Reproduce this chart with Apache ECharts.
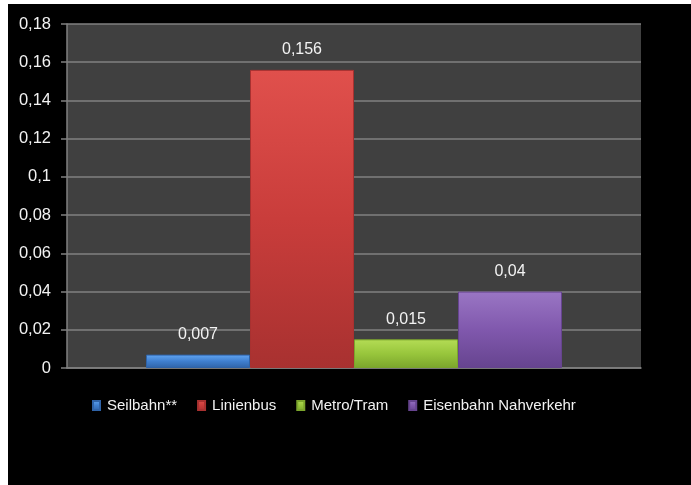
<!DOCTYPE html>
<html>
<head>
<meta charset="utf-8">
<script src="https://cdn.jsdelivr.net/npm/echarts@6/dist/echarts.min.js"></script>
<style>
  html, body { margin: 0; padding: 0; background: #ffffff; }
  #chart { width: 691px; height: 485px; }
</style>
</head>
<body>
<div id="chart"></div>
<script>
// Verkehrsmittel und ihre Werte
const categories = ['Seilbahn**', 'Linienbus', 'Metro/Tram', 'Eisenbahn Nahverkehr'];
const values = [0.007, 0.156, 0.015, 0.04];
const barColors = [
  ['#62a6f2', '#3f7fcf', '#2f63a8'],
  ['#e0504c', '#c93d3b', '#a83130'],
  ['#b4dc55', '#98c63c', '#7ba52c'],
  ['#9a76c4', '#8058ad', '#66448f']
];
const yMin = 0, yMax = 0.18, yStep = 0.02;

const fmt = v => String(+(+v).toFixed(3)).replace('.', ',');

const series = categories.map((name, i) => ({
  name: name,
  type: 'bar',
  data: [values[i]],
  barWidth: 104,
  barGap: '0%',
  itemStyle: {
    color: new echarts.graphic.LinearGradient(0, 0, 0, 1, [
      { offset: 0, color: barColors[i][0] },
      { offset: 0.5, color: barColors[i][1] },
      { offset: 1, color: barColors[i][2] }
    ]),
    borderColor: barColors[i][2],
    borderWidth: 1
  },
  label: {
    show: true,
    position: 'top',
    distance: 12,
    color: '#f2f2f2',
    fontFamily: 'Liberation Sans',
    fontSize: 16,
    formatter: p => fmt(p.value)
  }
}));

const chart = echarts.init(document.getElementById('chart'));
chart.setOption({
  backgroundColor: '#000000',
  animation: false,
  graphic: [
    { type: 'rect', left: 0, top: 0, shape: { width: 691, height: 4 }, style: { fill: '#ffffff' }, z: 100 },
    { type: 'rect', left: 0, top: 0, shape: { width: 8, height: 485 }, style: { fill: '#ffffff' }, z: 100 }
  ],
  grid: { left: 67, right: 50, top: 24, bottom: 117, backgroundColor: '#404040', show: true, borderWidth: 0 },
  legend: {
    data: categories,
    left: 87,
    top: 393,
    itemWidth: 7,
    itemHeight: 9,
    itemGap: 20,
    icon: 'rect',
    textStyle: { color: '#f2f2f2', fontFamily: 'Liberation Sans', fontSize: 15, padding: [0, 0, 0, 2] }
  },
  xAxis: {
    type: 'category',
    data: [''],
    axisLine: { show: true, lineStyle: { color: '#808080', width: 1.5 } },
    axisTick: { show: false },
    axisLabel: { show: false }
  },
  yAxis: {
    type: 'value',
    min: yMin,
    max: yMax,
    interval: yStep,
    axisLine: { show: true, lineStyle: { color: '#808080', width: 1.5 } },
    axisTick: { show: true, length: 6, lineStyle: { color: '#808080', width: 1.5 } },
    splitLine: { show: true, lineStyle: { color: '#808080', width: 1.5 } },
    axisLabel: {
      color: '#f2f2f2',
      fontFamily: 'Liberation Sans',
      fontSize: 16.5,
      margin: 16,
      formatter: v => fmt(v)
    }
  },
  series: series
});
</script>
</body>
</html>
